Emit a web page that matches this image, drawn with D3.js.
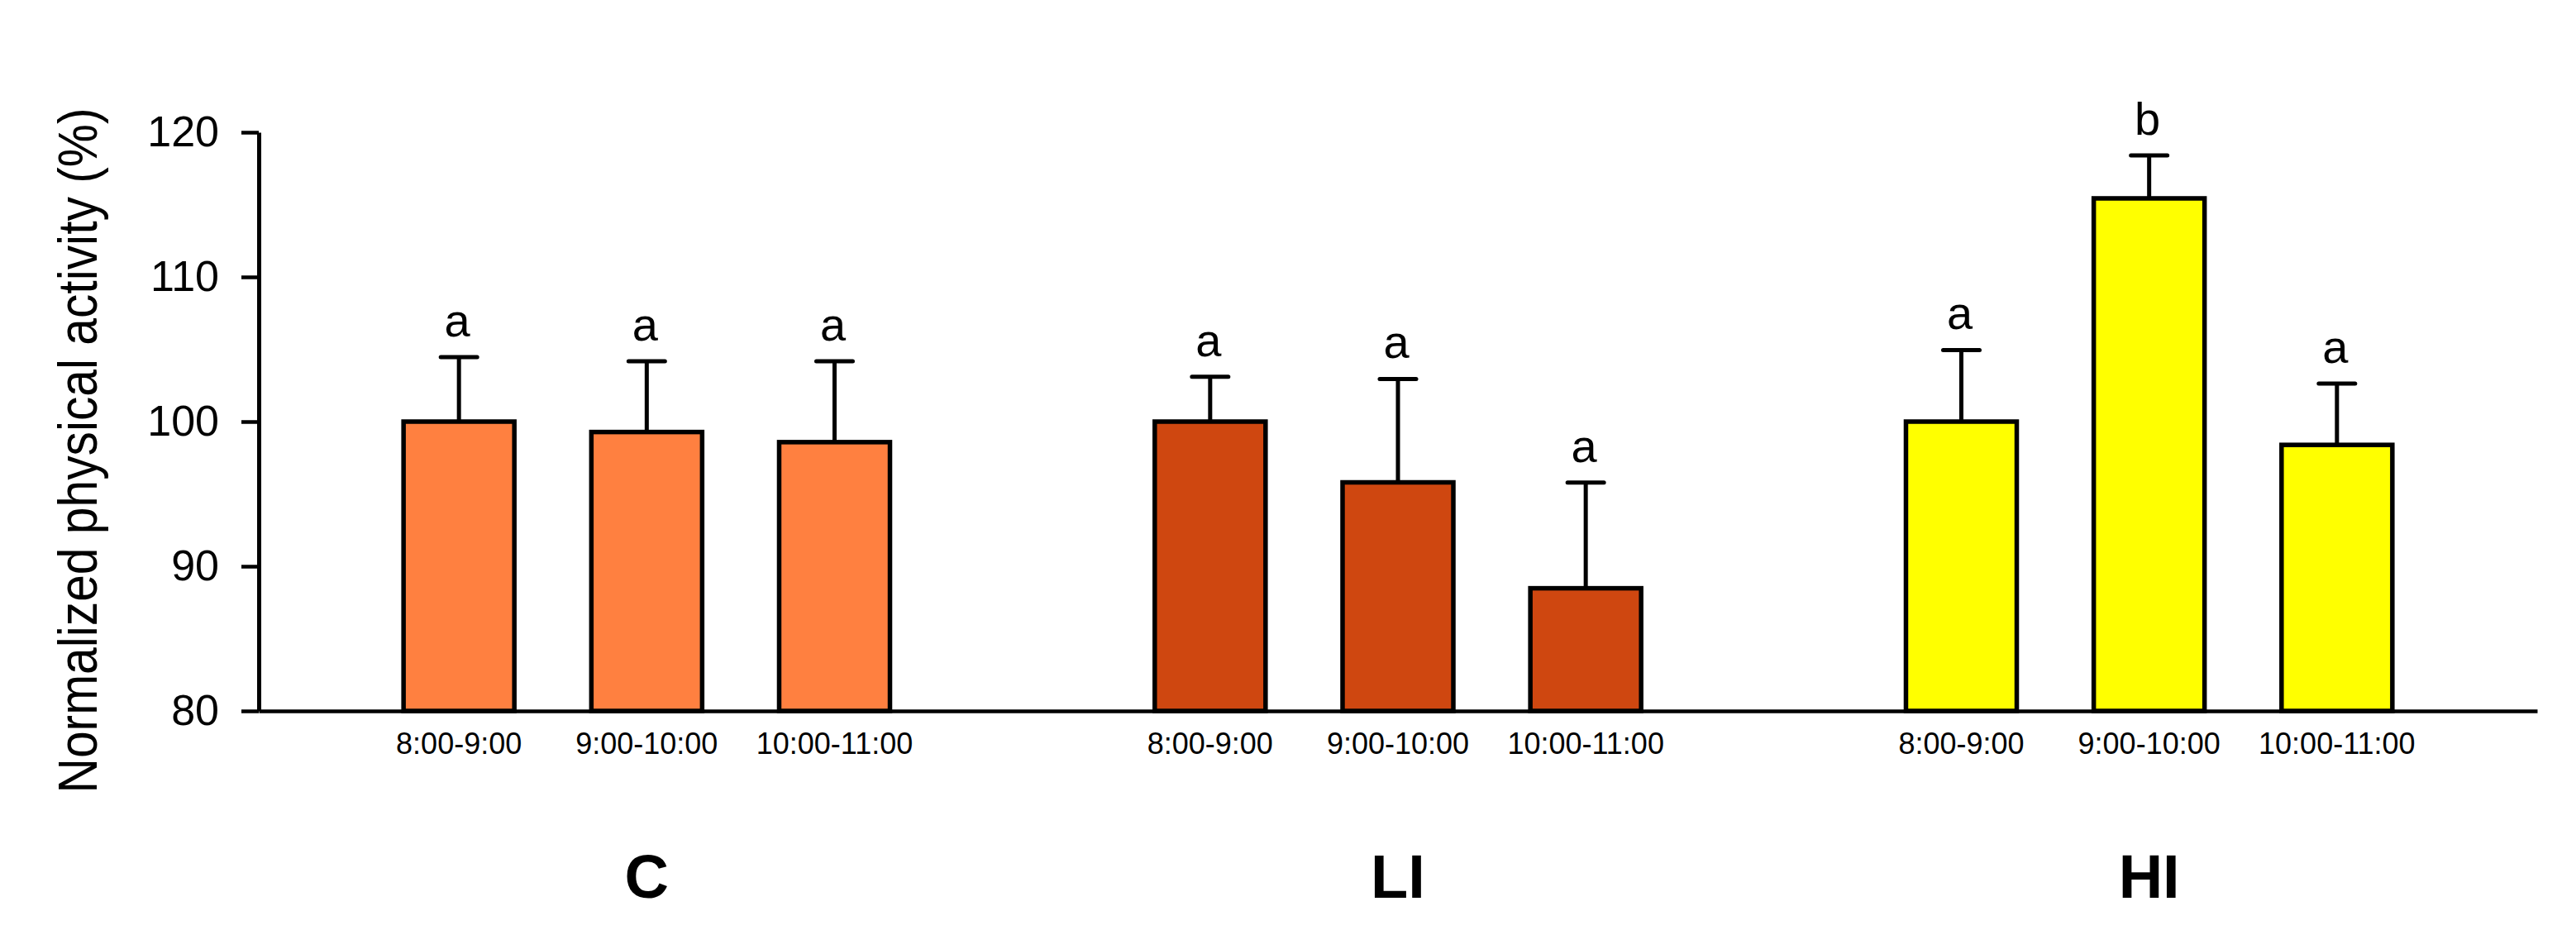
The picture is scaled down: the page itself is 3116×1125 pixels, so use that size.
<!DOCTYPE html>
<html>
<head>
<meta charset="utf-8">
<script src="https://cdn.jsdelivr.net/npm/d3@7"></script>
<style>
  html, body { margin: 0; padding: 0; background: #ffffff; }
  svg { display: block; }
  text { font-family: "Liberation Sans", Arial, Helvetica, sans-serif; fill: #000; }
</style>
</head>
<body>
<svg id="chart" width="3116" height="1125"></svg>
<script>
// ---- data ----
const groups = ["C", "LI", "HI"];
const times = ["8:00-9:00", "9:00-10:00", "10:00-11:00"];
const meansC  = [100.0, 99.28, 98.58];
const meansLI = [100.0, 95.80, 88.48];
const meansHI = [100.0, 115.43, 98.39];
const errC  = [4.46, 4.89, 5.59];
const errLI = [3.10, 7.15, 7.30];
const errHI = [4.95, 2.97, 4.24];
const lettersC  = ["a", "a", "a"];
const lettersLI = ["a", "a", "a"];
const lettersHI = ["a", "b", "a"];
const yTicks = [80, 90, 100, 110, 120];
const yTitle = "Normalized physical activity (%)";
const groupColors = ["#FF8040", "#CF4710", "#FFFF00"];

const means = [meansC, meansLI, meansHI];
const errs = [errC, errLI, errHI];
const letters = [lettersC, lettersLI, lettersHI];

const rows = [];
groups.forEach((g, gi) => {
  times.forEach((t, ti) => {
    rows.push({ group: g, time: t, value: means[gi][ti], err: errs[gi][ti], letter: letters[gi][ti], color: groupColors[gi] });
  });
});

// ---- layout ----
const svg = d3.select("#chart");
const plotLeft = 313, plotRight = 3069, plotTop = 160, plotBottom = 860;

const y = d3.scaleLinear().domain([80, 120]).range([plotBottom, plotTop]);
const x0 = d3.scaleBand().domain(groups).range([plotLeft, plotRight]).paddingInner(0).paddingOuter(0.0165);
const x1 = d3.scaleBand().domain(times).range([0, x0.bandwidth()]).paddingInner(0.41).paddingOuter(0.705);

// bars
const gBars = svg.append("g");
const bars = gBars.selectAll("g.bar").data(rows).join("g").attr("class", "bar")
  .attr("transform", d => `translate(${x0(d.group) + x1(d.time)},0)`);

bars.append("line")
  .attr("x1", x1.bandwidth() / 2).attr("x2", x1.bandwidth() / 2)
  .attr("y1", d => y(d.value)).attr("y2", d => y(d.value + d.err))
  .attr("stroke", "#000").attr("stroke-width", 5);
bars.append("line")
  .attr("x1", x1.bandwidth() / 2 - 22).attr("x2", x1.bandwidth() / 2 + 22)
  .attr("y1", d => y(d.value + d.err)).attr("y2", d => y(d.value + d.err))
  .attr("stroke", "#000").attr("stroke-width", 5).attr("stroke-linecap", "round");
bars.append("rect")
  .attr("x", 0).attr("width", x1.bandwidth())
  .attr("y", d => y(d.value)).attr("height", d => y(80) - y(d.value))
  .attr("fill", d => d.color).attr("stroke", "#000").attr("stroke-width", 5.5);
bars.append("text")
  .attr("x", x1.bandwidth() / 2 - 2)
  .attr("y", d => y(d.value + d.err) - 25)
  .attr("text-anchor", "middle")
  .attr("font-size", 56)
  .text(d => d.letter);

// y axis
const yAxis = svg.append("g").attr("transform", `translate(${plotLeft},0)`)
  .call(d3.axisLeft(y).tickValues(yTicks).tickSize(21).tickSizeOuter(0).tickPadding(27));
yAxis.select(".domain").attr("stroke", "#000").attr("stroke-width", 5);
yAxis.selectAll(".tick line").attr("stroke", "#000").attr("stroke-width", 4.5);
yAxis.selectAll(".tick text").attr("font-size", 52).attr("font-family", "Liberation Sans, Arial, sans-serif").attr("fill", "#000");

// x axis
const xAxis = svg.append("g").attr("transform", `translate(0,${plotBottom})`)
  .call(d3.axisBottom(x0).tickSize(0).tickSizeOuter(0).tickFormat(""));
xAxis.select(".domain").attr("stroke", "#000").attr("stroke-width", 4.5);

// time labels
svg.append("g").selectAll("text").data(rows).join("text")
  .attr("x", d => x0(d.group) + x1(d.time) + x1.bandwidth() / 2)
  .attr("y", 912)
  .attr("text-anchor", "middle")
  .attr("font-size", 36)
  .text(d => d.time);

// group labels
svg.append("g").selectAll("text").data(groups).join("text")
  .attr("x", d => x0(d) + x0.bandwidth() / 2)
  .attr("y", 1086)
  .attr("text-anchor", "middle")
  .attr("font-size", 74)
  .attr("font-weight", "bold")
  .text(d => d);

// y title
svg.append("text")
  .attr("transform", "translate(117,545) rotate(-90)")
  .attr("text-anchor", "middle")
  .attr("font-size", 66)
  .attr("textLength", 829)
  .attr("lengthAdjust", "spacingAndGlyphs")
  .text(yTitle);
</script>
</body>
</html>
